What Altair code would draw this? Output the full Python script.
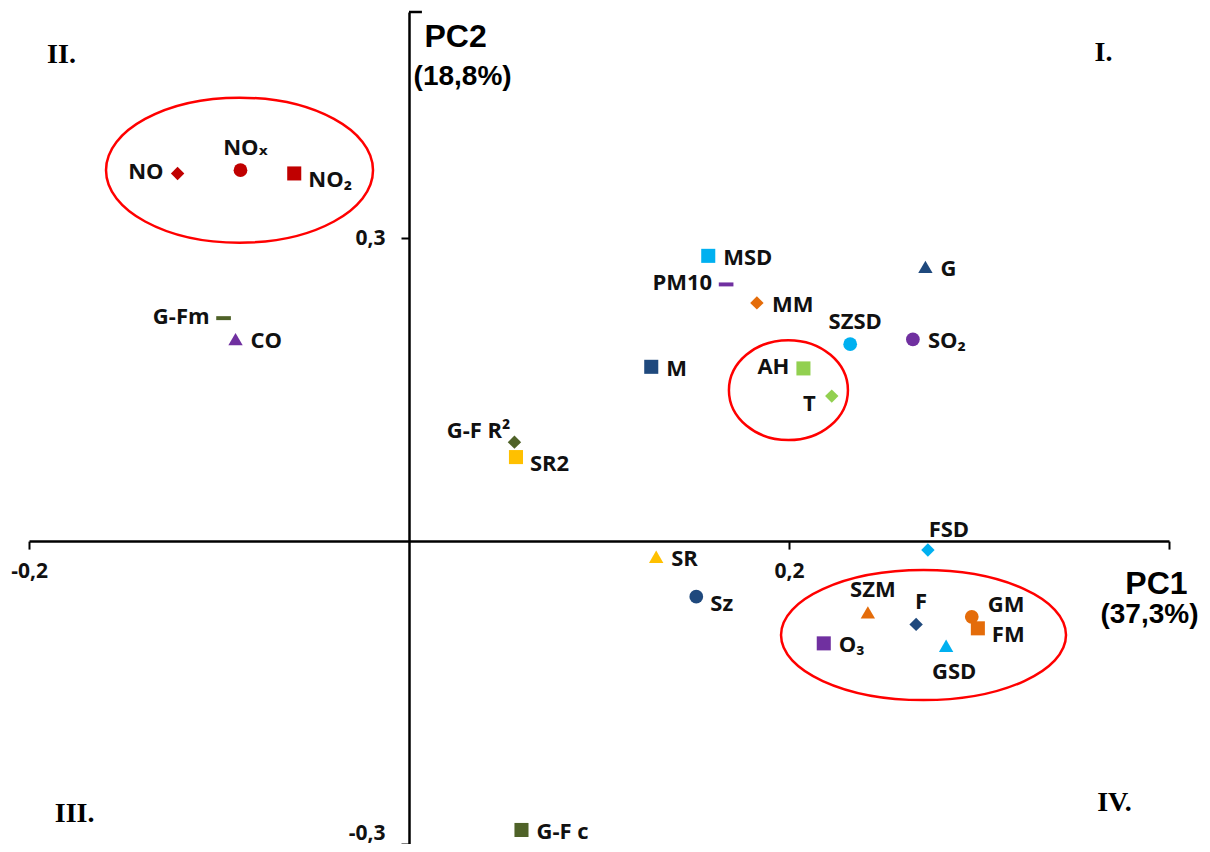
import altair as alt
import pandas as pd

# ---------------- data ----------------
names = ["NO", "NOₓ", "NO₂", "G-Fm", "CO", "MSD", "PM10", "MM", "G", "SZSD",
         "SO₂", "M", "AH", "T", "G-F R²", "SR2", "SR", "Sz", "FSD", "SZM",
         "F", "GM", "FM", "GSD", "O₃", "G-F c"]
pc1 = [-0.1218, -0.0887, -0.0604, -0.0976, -0.0913, 0.1575, 0.1669, 0.1831, 0.2718, 0.2322,
       0.2652, 0.1275, 0.2076, 0.2225, 0.0555, 0.0563, 0.1301, 0.1512, 0.2731, 0.2415,
       0.2669, 0.2962, 0.2994, 0.2827, 0.2183, 0.0592]
pc2 = [0.3641, 0.3673, 0.3641, 0.2208, 0.2000, 0.2825, 0.2542, 0.2359, 0.2716, 0.1950,
       0.1997, 0.1726, 0.1710, 0.1436, 0.0980, 0.0832, -0.0155, -0.0551, -0.0089, -0.0706,
       -0.0825, -0.0750, -0.0864, -0.1037, -0.1013, -0.2861]
shapes = ["diamond", "circle", "square", "dash", "triangle", "square", "dash", "diamond", "triangle", "circle",
          "circle", "square", "square", "diamond", "diamond", "square", "triangle", "circle", "diamond", "triangle",
          "diamond", "circle", "square", "triangle", "square", "square"]
placements = ["left", "above", "right-low", "left", "right", "right", "left", "right", "right", "above",
              "right", "right", "left", "left-low", "left-high", "right-low", "right", "right-low", "above-right", "above",
              "above", "right-high", "right-low", "below", "right", "right"]
point_colors = ["#c00000", "#c00000", "#c00000", "#4f6228", "#7030a0", "#00b0f0", "#7030a0", "#e46c0a", "#1f497d", "#00b0f0",
                "#7030a0", "#1f497d", "#92d050", "#92d050", "#4f6228", "#ffc000", "#ffc000", "#1f497d", "#00b0f0", "#e46c0a",
                "#1f497d", "#e46c0a", "#e46c0a", "#00b0f0", "#7030a0", "#4f6228"]

# cluster ellipses (centres in PC units)
ell_x = [-0.0892, 0.1997, 0.2708]
ell_y = [0.3673, 0.1495, -0.0931]

# axis ticks
x_tick_values = [-0.2, 0.2, 0.4]
x_tick_labels = ["-0,2", "0,2", ""]
y_tick_values = [-0.3, 0.3]
y_tick_labels = ["-0,3", "0,3"]

# annotations
quad_text = ["I.", "II.", "III.", "IV."]
quad_x = [0.3655, -0.1829, -0.1760, 0.3713]
quad_y = [0.4832, 0.4812, -0.2700, -0.2594]
title_big = ["PC2", "PC1"]
title_big_x = [0.0245, 0.3934]
title_big_y = [0.4990, -0.0426]
title_pct = ["(18,8%)", "(37,3%)"]
title_pct_x = [0.0282, 0.3897]
title_pct_y = [0.4594, -0.0733]

# ---------------- layout ----------------
XMIN, XMAX = -0.2, 0.4
YMIN, YMAX = -0.3, 0.524
W, H = 1140, 832

LABEL_FONT = "'Open Sans', 'DejaVu Sans', sans-serif"

def label_expr(vals, labels):
    expr = "''"
    for v, l in zip(reversed(vals), reversed(labels)):
        expr = f"abs(datum.value - ({v})) < 1e-6 ? '{l}' : ({expr})"
    return expr

x_axis = alt.Axis(
    orient="bottom", offset=-(H * (0 - YMIN) / (YMAX - YMIN)),
    values=x_tick_values, labelExpr=label_expr(x_tick_values, x_tick_labels),
    grid=False, title=None, domainColor="black", domainWidth=2.5,
    tickColor="black", tickWidth=2, tickSize=8, labelFont=LABEL_FONT,
    labelFontSize=21, labelFontWeight="bold", labelColor="#111111",
    labelPadding=11, labelFlush=False, labelOverlap=False,
)
y_axis = alt.Axis(
    orient="left", offset=-(W * (0 - XMIN) / (XMAX - XMIN)),
    values=y_tick_values, labelExpr=label_expr(y_tick_values, y_tick_labels),
    grid=False, title=None, domainColor="black", domainWidth=2.5,
    tickColor="black", tickWidth=2, tickSize=8, labelFont=LABEL_FONT,
    labelFontSize=21, labelFontWeight="bold", labelColor="#111111",
    labelPadding=16, labelFlush=False, labelOverlap=False,
    labelOffset={"condition": {"test": "datum.value < 0", "value": -11}, "value": 0},
)
xs = alt.Scale(domain=[XMIN, XMAX], nice=False, zero=False)
ys = alt.Scale(domain=[YMIN, YMAX], nice=False, zero=False)
X = alt.X("x:Q", scale=xs, axis=x_axis)
Y = alt.Y("y:Q", scale=ys, axis=y_axis)

df = pd.DataFrame({"name": names, "x": pc1, "y": pc2, "shape": shapes, "place": placements})

DASH = "M-1,-0.27L1,-0.27L1,0.27L-1,0.27Z"
shape_scale = alt.Scale(domain=["diamond", "circle", "square", "triangle", "dash"],
                        range=["diamond", "circle", "square", "triangle-up", DASH])
size_scale = alt.Scale(domain=["diamond", "circle", "square", "triangle", "dash"],
                       range=[180, 215, 215, 240, 225])
color_scale = alt.Scale(domain=names, range=point_colors)

points = alt.Chart(df).mark_point(filled=True, opacity=1, strokeWidth=0).encode(
    x=X, y=Y,
    shape=alt.Shape("shape:N", scale=shape_scale, legend=None),
    size=alt.Size("shape:N", scale=size_scale, legend=None),
    color=alt.Color("name:N", scale=color_scale, legend=None),
)

# ellipses
def ellipse_path(ry):
    k = 0.5523
    a, b = k * ry, ry
    return (f"M1,0 C1,{a:.4f} {k},{b:.4f} 0,{b:.4f} C{-k},{b:.4f} -1,{a:.4f} -1,0 "
            f"C-1,{-a:.4f} {-k},{-b:.4f} 0,{-b:.4f} C{k},{-b:.4f} 1,{-a:.4f} 1,0 Z")

ell_widths = [267, 119, 285]
ell_ratios = [0.543, 0.84, 0.456]
ellipses = []
for ex, ey, w, r in zip(ell_x, ell_y, ell_widths, ell_ratios):
    ellipses.append(
        alt.Chart(pd.DataFrame({"x": [ex], "y": [ey]})).mark_point(
            shape=ellipse_path(r), size=w * w, filled=False, stroke="#ff0000",
            strokeWidth=2.5, opacity=1,
        ).encode(x=X, y=Y)
    )

# point labels
place_style = {
    "right": dict(align="left", dx=15, dy=2),
    "right-low": dict(align="left", dx=14, dy=7),
    "right-high": dict(align="left", dx=16, dy=-12),
    "left": dict(align="right", dx=-14, dy=-1),
    "left-low": dict(align="right", dx=-16, dy=8),
    "left-high": dict(align="right", dx=-4, dy=-11),
    "above": dict(align="center", dx=5, dy=-22),
    "above-right": dict(align="center", dx=21, dy=-20),
    "below": dict(align="center", dx=8, dy=26),
}
labels = []
for p, st in place_style.items():
    labels.append(
        alt.Chart(df).transform_filter(alt.datum.place == p).mark_text(
            font=LABEL_FONT, fontSize=22, fontWeight="bold", color="#111111",
            baseline="middle", **st,
        ).encode(x=X, y=Y, text="name:N")
    )

quads = alt.Chart(pd.DataFrame({"x": quad_x, "y": quad_y, "t": quad_text})).mark_text(
    font="'Liberation Serif', 'DejaVu Serif', serif", fontSize=28, fontWeight="bold",
    color="black", align="center", baseline="middle",
).encode(x=X, y=Y, text="t:N")

titles_big = alt.Chart(pd.DataFrame({"x": title_big_x, "y": title_big_y, "t": title_big})).mark_text(
    font="'Liberation Sans', Arial, sans-serif", fontSize=32, fontWeight="bold",
    color="black", align="center", baseline="middle",
).encode(x=X, y=Y, text="t:N")

titles_pct = alt.Chart(pd.DataFrame({"x": title_pct_x, "y": title_pct_y, "t": title_pct})).mark_text(
    font="'Liberation Sans', Arial, sans-serif", fontSize=28, fontWeight="bold",
    color="black", align="center", baseline="middle",
).encode(x=X, y=Y, text="t:N")

top_cap = alt.Chart(pd.DataFrame({"x": [0.0], "x2": [0.0068], "y": [YMAX]})).mark_rule(
    color="black", strokeWidth=2.5
).encode(x=X, x2="x2:Q", y=Y)

chart = alt.layer(*ellipses, points, *labels, quads, titles_big, titles_pct, top_cap).properties(
    width=W, height=H,
    autosize=alt.AutoSizeParams(type="none"),
    padding={"left": 21, "top": 4, "right": 33, "bottom": 0},
    background="white",
).configure_view(stroke=None)

chart.save("out.html", embed_options={"renderer": "svg", "actions": False})
